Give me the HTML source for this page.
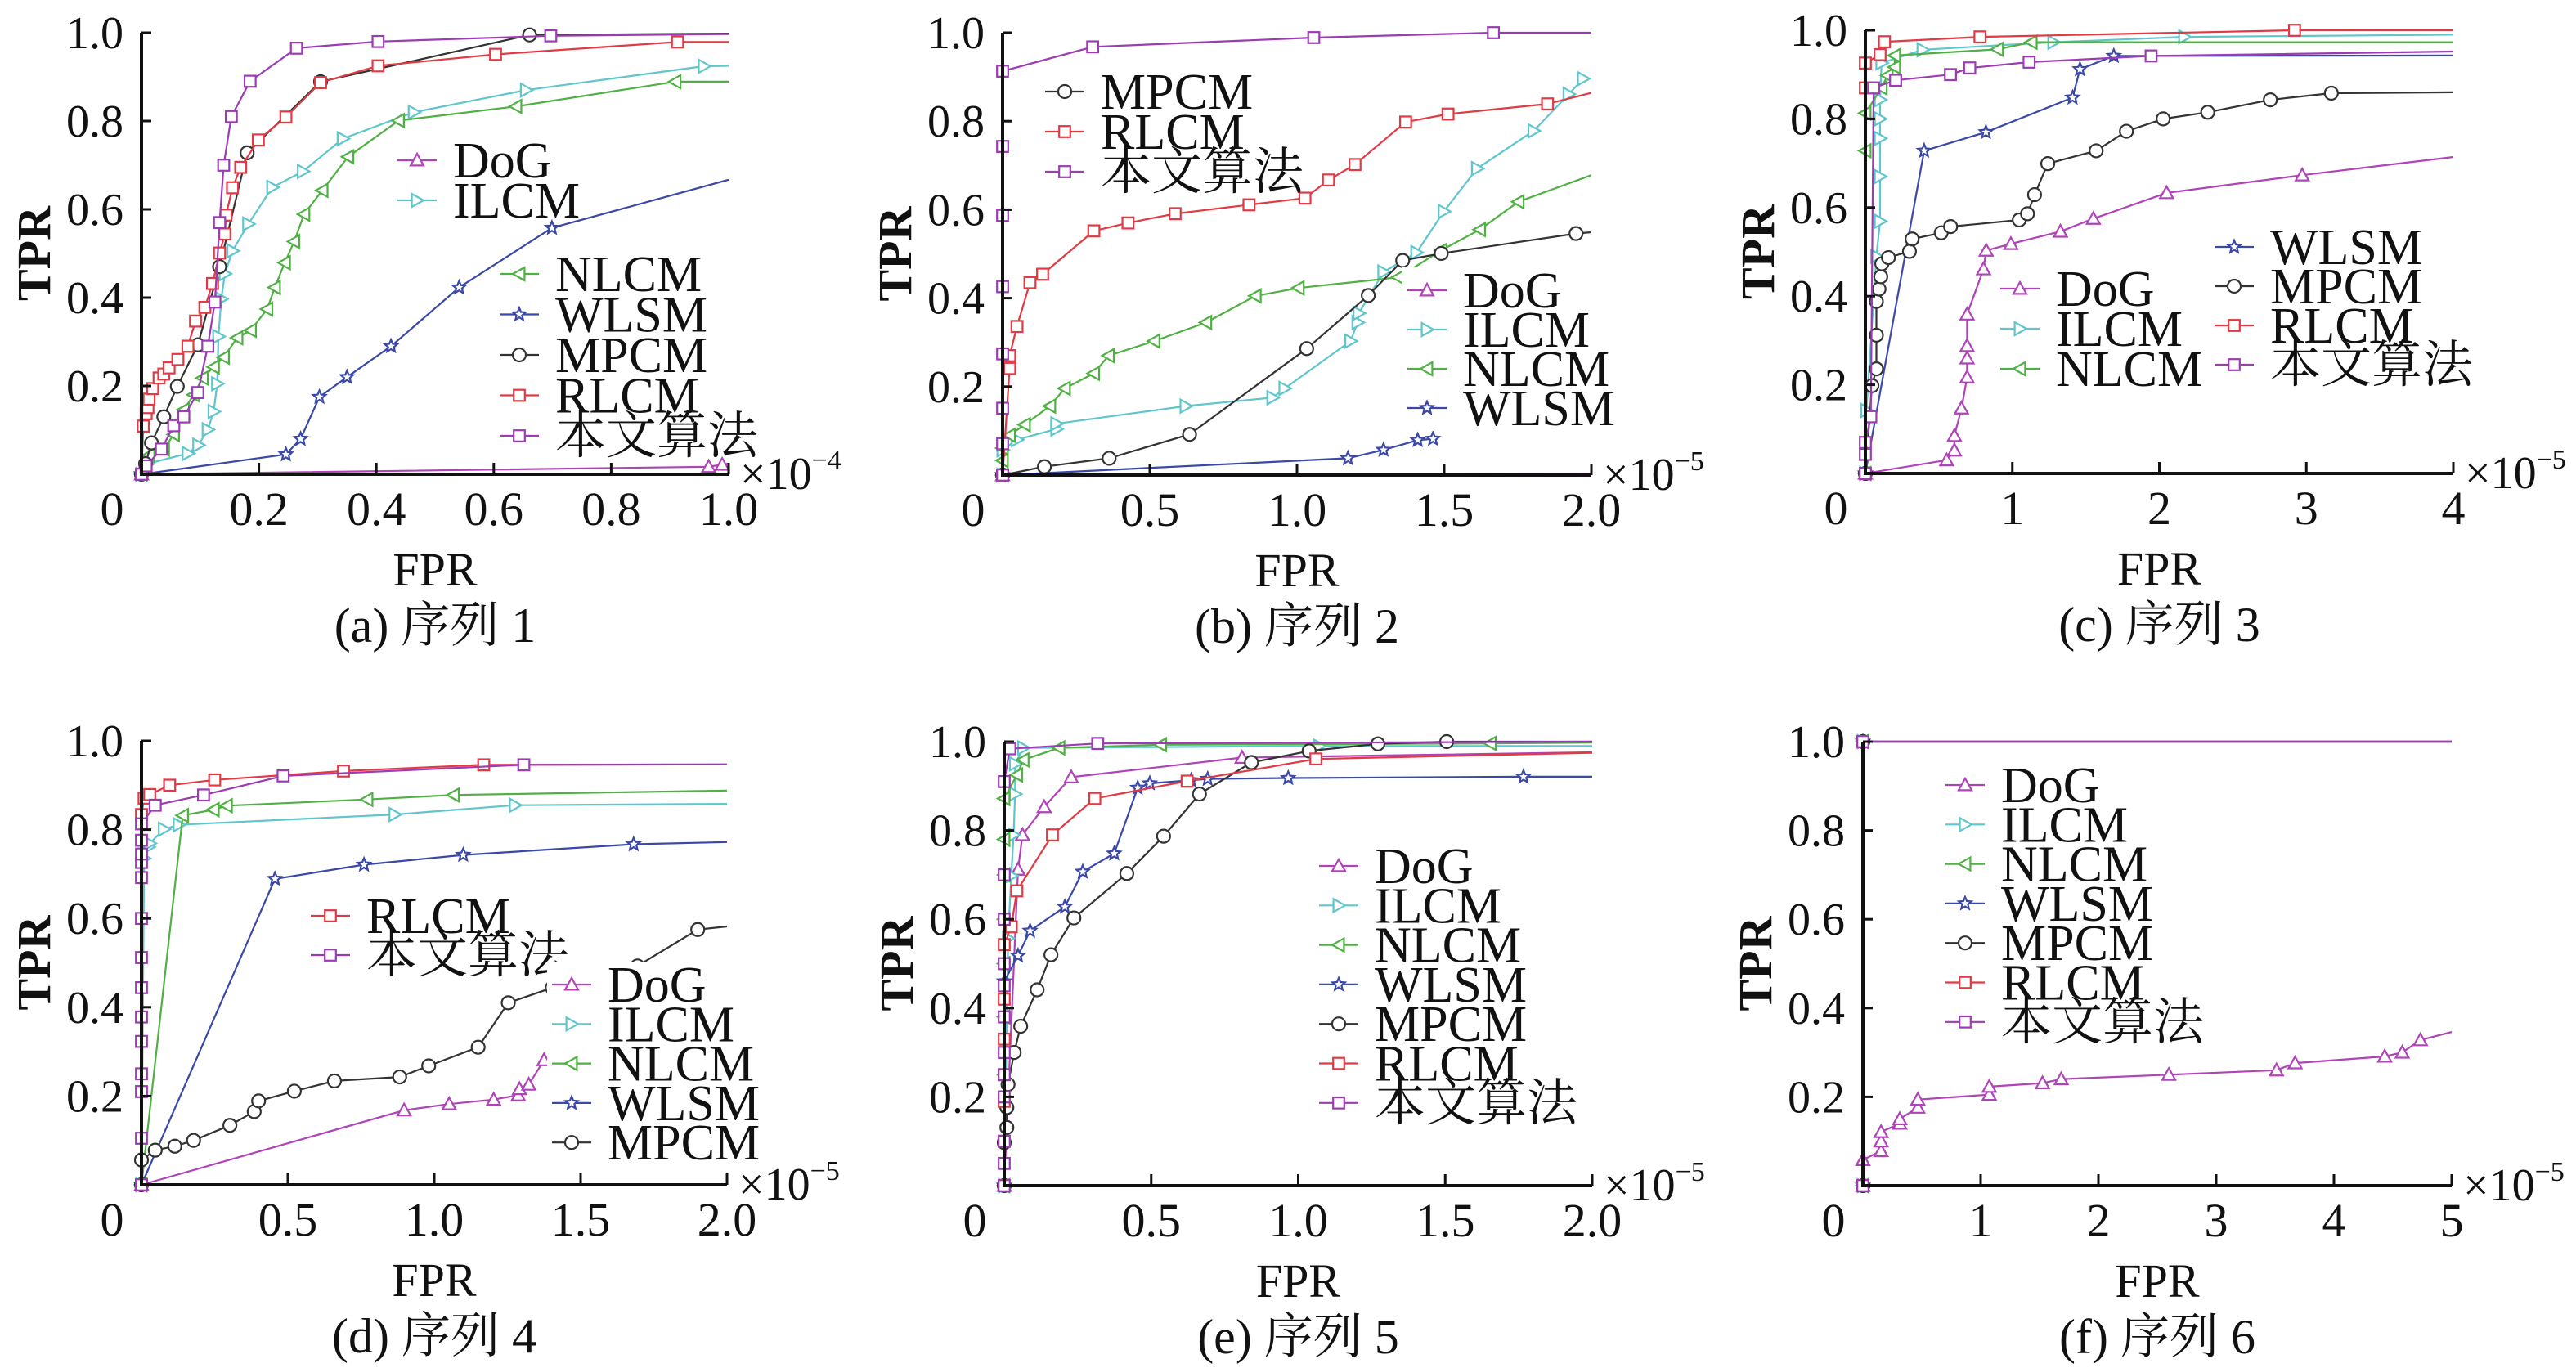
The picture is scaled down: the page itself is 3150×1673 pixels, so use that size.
<!DOCTYPE html>
<html><head><meta charset="utf-8">
<style>
html,body{margin:0;padding:0;background:#fff;}
svg{display:block;}
svg text{font-family:"Liberation Serif","Times New Roman","DejaVu Serif","Noto Serif CJK SC",serif;}
</style></head>
<body>
<svg id="fig" xmlns="http://www.w3.org/2000/svg" width="3150" height="1673" viewBox="0 0 3150 1673"></svg>
<script>
// ---------- data (FPR in axis units, TPR) ----------
const seriesNames = ["DoG","ILCM","NLCM","WLSM","MPCM","RLCM","本文算法"];
// panel a (x 1e-4)
const aDoGx=[0,0.966,0.989,1.0]; const aDoGy=[0,0.017,0.022,0.024];
const aILCMx=[0,0.011,0.079,0.097,0.113,0.123,0.129,0.131,0.136,0.142,0.155,0.182,0.223,0.275,0.343,0.464,0.655,0.958,1.0];
const aILCMy=[0,0.024,0.047,0.066,0.101,0.142,0.205,0.312,0.397,0.454,0.506,0.567,0.65,0.686,0.76,0.82,0.87,0.924,0.925];
const aNLCMx=[0,0.013,0.038,0.055,0.072,0.089,0.104,0.123,0.14,0.163,0.186,0.214,0.227,0.244,0.26,0.277,0.308,0.352,0.438,0.638,0.909,1.0];
const aNLCMy=[0,0.043,0.057,0.09,0.146,0.18,0.218,0.243,0.265,0.309,0.326,0.374,0.423,0.479,0.527,0.589,0.643,0.719,0.801,0.833,0.889,0.889];
const aWLSMx=[0,0.246,0.271,0.303,0.35,0.425,0.541,0.699,1.0]; const aWLSMy=[0,0.045,0.08,0.175,0.22,0.29,0.423,0.558,0.667];
const aMPCMx=[0,0.007,0.017,0.038,0.061,0.096,0.133,0.18,0.305,0.661,1.0]; const aMPCMy=[0,0.024,0.071,0.13,0.199,0.293,0.47,0.728,0.889,0.995,0.998];
const aRLCMx=[0,0.003,0.008,0.011,0.013,0.019,0.03,0.038,0.047,0.062,0.079,0.092,0.108,0.121,0.133,0.142,0.144,0.155,0.169,0.199,0.246,0.305,0.403,0.603,0.913,1.0];
const aRLCMy=[0,0.109,0.137,0.151,0.17,0.194,0.218,0.227,0.241,0.26,0.29,0.347,0.378,0.432,0.501,0.544,0.587,0.649,0.695,0.757,0.809,0.887,0.925,0.951,0.979,0.979];
const aOursx=[0,0.008,0.034,0.055,0.072,0.096,0.113,0.125,0.133,0.14,0.153,0.185,0.264,0.403,0.697,1.0];
const aOursy=[0,0.019,0.057,0.11,0.13,0.185,0.29,0.39,0.57,0.70,0.81,0.89,0.965,0.98,0.993,0.997];
// panel b (x 1e-5)
const bDoGx=[0,2]; const bDoGy=[0,0.002];
const bILCMx=[0,0,0.049,0.183,0.183,0.622,0.917,0.958,1.182,1.206,1.21,1.294,1.406,1.499,1.612,1.804,1.923,1.972];
const bILCMy=[0,0.057,0.08,0.104,0.116,0.156,0.175,0.196,0.303,0.345,0.366,0.459,0.503,0.596,0.693,0.778,0.861,0.896];
const bNLCMx=[0,0,0,0.024,0.075,0.161,0.211,0.31,0.36,0.515,0.691,0.859,1.005,1.344,1.49,1.621,1.752,2.0];
const bNLCMy=[0,0.033,0.061,0.09,0.114,0.156,0.196,0.23,0.27,0.303,0.345,0.405,0.423,0.447,0.508,0.555,0.618,0.678];
const bWLSMx=[0,1.173,1.294,1.41,1.462]; const bWLSMy=[0,0.038,0.057,0.079,0.082];
const bMPCMx=[0,0.142,0.362,0.635,1.033,1.242,1.359,1.49,1.948,2.0]; const bMPCMy=[0,0.019,0.038,0.092,0.286,0.406,0.485,0.501,0.546,0.549];
const bRLCMx=[0,0.024,0.024,0.049,0.093,0.136,0.31,0.426,0.586,0.837,1.027,1.107,1.197,1.369,1.513,1.851,2.0];
const bRLCMy=[0,0.241,0.27,0.336,0.435,0.454,0.552,0.57,0.591,0.611,0.626,0.667,0.702,0.798,0.816,0.839,0.864];
const bOursx=[0,0,0,0,0,0,0,0,0.306,1.057,1.667,2.0]; const bOursy=[0,0.071,0.151,0.274,0.426,0.587,0.743,0.913,0.968,0.989,1.0,1.0];
// panel c (x 1e-5)
const cDoGx=[0,0.553,0.606,0.606,0.654,0.692,0.692,0.692,0.692,0.804,0.822,0.99,1.327,1.551,2.049,2.972,4];
const cDoGy=[0,0.03,0.052,0.085,0.147,0.217,0.26,0.288,0.359,0.461,0.503,0.518,0.546,0.575,0.633,0.673,0.714];
const cILCMx=[0,0.007,0.075,0.1,0.1,0.1,0.1,0.1,0.11,0.39,1.28,2.17,4]; const cILCMy=[0,0.142,0.49,0.569,0.67,0.756,0.8,0.843,0.926,0.956,0.973,0.985,0.99];
const cNLCMx=[0,0,0,0.11,0.15,0.2,0.2,0.9,1.13,4]; const cNLCMy=[0,0.728,0.813,0.87,0.898,0.917,0.943,0.957,0.973,0.973];
const cWLSMx=[0,0.4,0.82,1.41,1.46,1.69,4]; const cWLSMy=[0,0.728,0.77,0.848,0.912,0.942,0.943];
const cMPCMx=[0,0.045,0.075,0.075,0.075,0.093,0.105,0.112,0.157,0.3,0.318,0.516,0.58,1.047,1.103,1.151,1.241,1.57,1.776,2.026,2.329,2.755,3.17,4];
const cMPCMy=[0,0.198,0.236,0.312,0.388,0.416,0.444,0.473,0.487,0.501,0.529,0.543,0.557,0.572,0.586,0.629,0.699,0.728,0.772,0.8,0.815,0.843,0.858,0.86];
const cRLCMx=[0,0,0,0.1,0.13,0.78,2.92,4]; const cRLCMy=[0,0.87,0.926,0.945,0.974,0.985,1.0,1.0];
const cOursx=[0,0,0,0.037,0.056,0.206,0.579,0.71,1.114,1.944,4]; const cOursy=[0,0.043,0.07,0.128,0.87,0.887,0.9,0.915,0.928,0.942,0.952];
// panel d (x 1e-5)
const dDoGx=[0,0.897,1.051,1.203,1.287,1.291,1.323,1.375,1.981]; const dDoGy=[0,0.168,0.182,0.192,0.202,0.216,0.226,0.281,0.425];
const dILCMx=[0,0.009,0.024,0.028,0.077,0.128,0.865,1.276,2]; const dILCMy=[0,0.735,0.761,0.769,0.801,0.811,0.834,0.855,0.858];
const dNLCMx=[0,0.141,0.246,0.291,0.771,1.066,2]; const dNLCMy=[0,0.832,0.845,0.854,0.868,0.878,0.888];
const dWLSMx=[0,0.456,0.76,1.099,1.681,2]; const dWLSMy=[0,0.689,0.721,0.743,0.767,0.772];
const dMPCMx=[0,0,0.047,0.114,0.178,0.302,0.385,0.4,0.522,0.659,0.882,0.981,1.15,1.253,1.403,1.694,1.9,2];
const dMPCMy=[0,0.056,0.078,0.087,0.1,0.134,0.165,0.189,0.211,0.234,0.243,0.268,0.31,0.41,0.444,0.493,0.575,0.582];
const dRLCMx=[0,0,0.009,0.028,0.096,0.25,0.69,1.169,2]; const dRLCMy=[0,0.834,0.871,0.879,0.9,0.912,0.932,0.946,0.947];
const dOursx=[0,0,0,0,0,0,0,0,0,0,0,0,0,0,0.047,0.212,0.484,1.306,2];
const dOursy=[0,0.105,0.21,0.25,0.323,0.378,0.444,0.512,0.6,0.692,0.726,0.745,0.776,0.813,0.855,0.878,0.921,0.946,0.947];
// panel e (x 1e-5)
const eDoGx=[0,0.047,0.062,0.136,0.228,0.809,2]; const eDoGy=[0,0.712,0.79,0.853,0.92,0.964,0.976];
const eILCMx=[0,0.013,0.024,0.032,0.037,0.037,0.065,1.071,2]; const eILCMy=[0,0.557,0.698,0.79,0.882,0.95,0.986,0.99,0.99];
const eNLCMx=[0,0,0,0,0,0,0,0,0.043,0.065,0.187,0.533,1.654,2]; const eNLCMy=[0,0.25,0.38,0.5,0.6,0.7,0.78,0.872,0.925,0.959,0.986,0.993,0.996,0.998];
const eWLSMx=[0,0,0.047,0.088,0.206,0.267,0.374,0.454,0.495,0.636,0.692,0.966,1.766,2];
const eWLSMy=[0,0.46,0.518,0.574,0.628,0.707,0.748,0.896,0.906,0.913,0.916,0.918,0.921,0.921];
const eMPCMx=[0,0,0.009,0.009,0.013,0.034,0.056,0.112,0.159,0.237,0.417,0.542,0.664,0.841,1.037,1.271,1.505,2];
const eMPCMy=[0,0.097,0.131,0.176,0.228,0.3,0.359,0.441,0.52,0.603,0.703,0.787,0.882,0.953,0.979,0.995,1.0,1.0];
const eRLCMx=[0,0,0,0,0,0,0,0.024,0.043,0.164,0.308,0.622,1.06,2]; const eRLCMy=[0,0.1,0.19,0.25,0.33,0.42,0.543,0.583,0.664,0.79,0.872,0.911,0.961,0.975];
const eOursx=[0,0,0,0,0,0,0,0,0,0,0,0,0.019,0.318,2]; const eOursy=[0,0.05,0.1,0.2,0.25,0.3,0.38,0.45,0.5,0.6,0.7,0.91,0.984,0.996,1.0];
// panel f (x 1e-5)
const fDoGx=[0,0,0.154,0.154,0.154,0.313,0.313,0.466,0.466,1.073,1.073,1.525,1.684,2.598,3.512,3.67,4.431,4.58,4.734,5];
const fDoGy=[0,0.058,0.078,0.1,0.121,0.14,0.15,0.176,0.194,0.205,0.223,0.231,0.24,0.25,0.26,0.276,0.291,0.3,0.328,0.346];
const fOtherx=[0,0,5]; const fOthery=[0,1,1];
// ticks
const yTickVals=[0.2,0.4,0.6,0.8,1.0]; const yTickLabels=["0.2","0.4","0.6","0.8","1.0"];
const xTicksA=[0.2,0.4,0.6,0.8,1.0]; const xTickLabelsA=["0.2","0.4","0.6","0.8","1.0"];
const xTicks2=[0.5,1.0,1.5,2.0]; const xTickLabels2=["0.5","1.0","1.5","2.0"];
const xTicks4=[1,2,3,4]; const xTickLabels4=["1","2","3","4"];
const xTicks5=[1,2,3,4,5]; const xTickLabels5=["1","2","3","4","5"];

// ---------- rendering ----------
const NS="http://www.w3.org/2000/svg";
const svg=document.getElementById('fig');
const colors=["#b043b8","#5fc6cc","#4fb043","#3a48a8","#333333","#e23a44","#9c3cb4"];
function mk(tag,attrs,parent){const e=document.createElementNS(NS,tag);for(const k in attrs)e.setAttribute(k,attrs[k]);(parent||svg).appendChild(e);return e;}
function marker(g,k,x,y,c){
  const r=8;let e;
  if(k===0) e=mk('polygon',{points:`${x},${y-r} ${x+r},${y+r*0.8} ${x-r},${y+r*0.8}`},g);
  else if(k===1) e=mk('polygon',{points:`${x+r},${y} ${x-r*0.8},${y-r} ${x-r*0.8},${y+r}`},g);
  else if(k===2) e=mk('polygon',{points:`${x-r},${y} ${x+r*0.8},${y-r} ${x+r*0.8},${y+r}`},g);
  else if(k===3){let p=[];for(let i=0;i<10;i++){const a=-Math.PI/2+i*Math.PI/5;const rr=i%2?r*0.45:r;p.push((x+rr*Math.cos(a)).toFixed(1)+','+(y+rr*Math.sin(a)).toFixed(1));}e=mk('polygon',{points:p.join(' ')},g);}
  else if(k===4) e=mk('circle',{cx:x,cy:y,r:r},g);
  else e=mk('rect',{x:x-r*0.85,y:y-r*0.85,width:r*1.7,height:r*1.7},g);
  e.setAttribute('fill','#fff');e.setAttribute('stroke',c);e.setAttribute('stroke-width','2.2');
  
  
}
function txt(x,y,s,size,anchor,parent,extra){const t=mk('text',Object.assign({x:x,y:y,'font-size':size,'text-anchor':anchor||'middle',fill:'#111'},extra||{}),parent);t.style.fontFamily='"Liberation Serif","Times New Roman","DejaVu Serif","Noto Serif CJK SC",serif';t.textContent=s;return t;}

const panels=[
 {id:'a',x0:173,x1:891,y0:580,y1:40,xmax:1,xt:xTicksA,xl:xTickLabelsA,exp:'−4',cap:'(a) 序列 1',
  xs:[aDoGx,aILCMx,aNLCMx,aWLSMx,aMPCMx,aRLCMx,aOursx],ys:[aDoGy,aILCMy,aNLCMy,aWLSMy,aMPCMy,aRLCMy,aOursy],
  legs:[{items:[0,1],lx:486,ly:196,gap:49,bg:false},{items:[2,3,4,5,6],lx:611,ly:335,gap:49.5,bg:false}]},
 {id:'b',x0:1226,x1:1946,y0:581,y1:40,xmax:2,xt:xTicks2,xl:xTickLabels2,exp:'−5',cap:'(b) 序列 2',
  xs:[bDoGx,bILCMx,bNLCMx,bWLSMx,bMPCMx,bRLCMx,bOursx],ys:[bDoGy,bILCMy,bNLCMy,bWLSMy,bMPCMy,bRLCMy,bOursy],
  legs:[{items:[4,5,6],lx:1278,ly:112,gap:49,bg:false},{items:[0,1,2,3],lx:1721,ly:355,gap:48,bg:true}]},
 {id:'c',x0:2281,x1:3000,y0:579,y1:37,xmax:4,xt:xTicks4,xl:xTickLabels4,exp:'−5',cap:'(c) 序列 3',
  xs:[cDoGx,cILCMx,cNLCMx,cWLSMx,cMPCMx,cRLCMx,cOursx],ys:[cDoGy,cILCMy,cNLCMy,cWLSMy,cMPCMy,cRLCMy,cOursy],
  legs:[{items:[0,1,2],lx:2446,ly:353,gap:49,bg:false},{items:[3,4,5,6],lx:2708,ly:302,gap:48,bg:false}]},
 {id:'d',x0:173,x1:889,y0:1449,y1:906,xmax:2,xt:xTicks2,xl:xTickLabels2,exp:'−5',cap:'(d) 序列 4',
  xs:[dDoGx,dILCMx,dNLCMx,dWLSMx,dMPCMx,dRLCMx,dOursx],ys:[dDoGy,dILCMy,dNLCMy,dWLSMy,dMPCMy,dRLCMy,dOursy],
  legs:[{items:[5,6],lx:380,ly:1120,gap:48,bg:false},{items:[0,1,2,3,4],lx:675,ly:1204,gap:48.3,bg:true}]},
 {id:'e',x0:1228,x1:1947,y0:1450,y1:907,xmax:2,xt:xTicks2,xl:xTickLabels2,exp:'−5',cap:'(e) 序列 5',
  xs:[eDoGx,eILCMx,eNLCMx,eWLSMx,eMPCMx,eRLCMx,eOursx],ys:[eDoGy,eILCMy,eNLCMy,eWLSMy,eMPCMy,eRLCMy,eOursy],
  legs:[{items:[0,1,2,3,4,5,6],lx:1613,ly:1059,gap:48.3,bg:false}]},
 {id:'f',x0:2278,x1:2998,y0:1450,y1:907,xmax:5,xt:xTicks5,xl:xTickLabels5,exp:'−5',cap:'(f) 序列 6',
  xs:[fDoGx,fOtherx,fOtherx,fOtherx,fOtherx,fOtherx,fOtherx],ys:[fDoGy,fOthery,fOthery,fOthery,fOthery,fOthery,fOthery],
  legs:[{items:[0,1,2,3,4,5,6],lx:2379,ly:960,gap:48.3,bg:false}]}
];

panels.forEach(p=>{
  const g=mk('g',{});
  
  
  const sx=v=>p.x0+(v/p.xmax)*(p.x1-p.x0);
  const sy=v=>p.y0-v*(p.y0-p.y1);
  for(let s=0;s<7;s++){
    const sg=mk('g',{},g);
    
    
    const X=p.xs[s],Y=p.ys[s];
    const pts=X.map((x,i)=>sx(x).toFixed(1)+','+sy(Y[i]).toFixed(1)).join(' ');
    const pl=mk('polyline',{points:pts,fill:'none',stroke:colors[s],'stroke-width':2.2,'stroke-linejoin':'round'},sg);
    
    
    X.forEach((x,i)=>{ if(x<p.xmax) marker(sg,s,sx(x),sy(Y[i]),colors[s]); });
  }
  const ax=mk('path',{d:`M${p.x0},${p.y1} L${p.x0},${p.y0} L${p.x1},${p.y0}`,fill:'none',stroke:'#111','stroke-width':4},g);
  
  
  yTickVals.forEach((v,i)=>{
    mk('line',{x1:p.x0,x2:p.x0+12,y1:sy(v),y2:sy(v),stroke:'#111','stroke-width':3},g);
    const t=txt(p.x0-22,sy(v)+19,yTickLabels[i],56,'end',g);
    
    
  });
  p.xt.forEach((v,i)=>{
    mk('line',{x1:sx(v),x2:sx(v),y1:p.y0,y2:p.y0-14,stroke:'#111','stroke-width':3},g);
    const t=txt(sx(v),p.y0+62,p.xl[i],58,'middle',g);
    
    
  });
  const z=txt(p.x0-36,p.y0+62,'0',58,'middle',g);
  
  
  const ex=txt(p.x1+14,p.y0+18,'×10',56,'start',g);
  const sup=mk('tspan',{'font-size':34,dy:-24},ex); sup.textContent=p.exp;
  
  
  const tp=txt(0,0,'TPR',58,'middle',g,{transform:`translate(${p.x0-112},${(p.y0+p.y1)/2}) rotate(-90)`,'font-weight':'bold'});
  
  
  const cx=(p.x0+p.x1)/2;
  const fp=txt(cx,p.y0+136,'FPR',58,'middle',g);
  
  
  const cp=txt(cx,p.y0+205,p.cap,60,'middle',g);
  
  
  p.legs.forEach(L=>{
    const lg=mk('g',{},g);
    
    
    if(L.bg){ mk('rect',{x:L.lx-6,y:L.ly-28,width:260,height:L.gap*(L.items.length-1)+56,fill:'#fff'},lg); }
    L.items.forEach((s,j)=>{
      const y=L.ly+j*L.gap;
      const eg=mk('g',{},lg);
      
      
      mk('line',{x1:L.lx,x2:L.lx+48,y1:y,y2:y,stroke:colors[s],'stroke-width':2.2},eg);
      marker(eg,s,L.lx+24,y,colors[s]);
      txt(L.lx+68,y+21,seriesNames[s],62,'start',eg);
    });
  });
});
</script>
</body></html>
